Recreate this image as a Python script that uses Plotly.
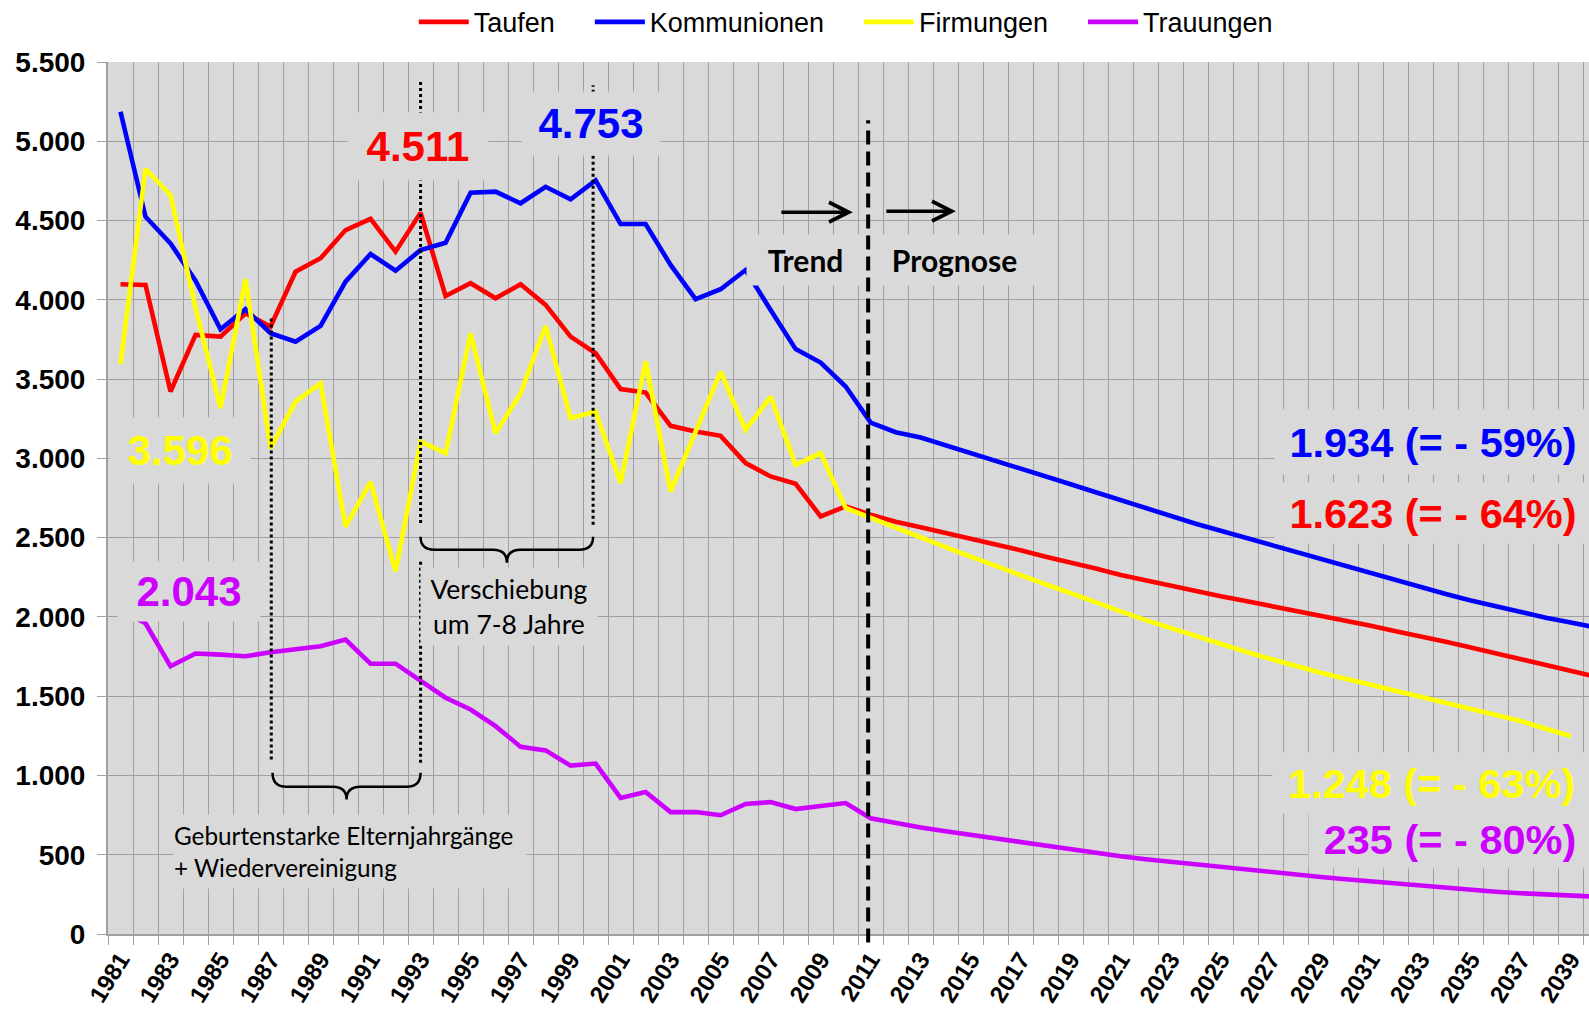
import plotly.graph_objects as go

# ---------------- data ----------------
years = list(range(1981, 2041))

taufen = [4098, 4094, 3422, 3779, 3768, 3915, 3831, 4177, 4262, 4440,
          4511, 4304, 4549, 4024, 4105, 4010, 4098, 3968, 3768, 3663,
          3437, 3415, 3205, 3169, 3142, 2970, 2886, 2840, 2634, 2697,
          2645, 2600, 2565, 2530, 2495, 2455, 2420, 2380, 2345, 2305,
          2265, 2230, 2200, 2165, 2130, 2100, 2070, 2040, 2005, 1975,
          1945, 1910, 1880, 1843, 1807, 1770, 1733, 1696, 1660, 1623]

kommunionen = [5186, 4524, 4356, 4120, 3814, 3941, 3789, 3736, 3836, 4115,
               4289, 4184, 4314, 4360, 4675, 4682, 4609, 4713, 4634, 4753,
               4478, 4478, 4220, 4004, 4067, 4188, 3936, 3689, 3604, 3453,
               3226, 3165, 3131, 3083, 3035, 2987, 2939, 2888, 2837, 2786,
               2735, 2684, 2633, 2588, 2543, 2498, 2454, 2410, 2365, 2320,
               2275, 2230, 2186, 2145, 2103, 2065, 2026, 1995, 1965, 1934]

firmungen = [3596, 4825, 4661, 3950, 3317, 4130, 3065, 3358, 3474, 2569,
             2852, 2287, 3106, 3033, 3789, 3159, 3411, 3835, 3254, 3296,
             2844, 3611, 2791, 3169, 3547, 3180, 3390, 2959, 3033, 2687,
             2624, 2560, 2500, 2440, 2380, 2320, 2262, 2205, 2150, 2090,
             2035, 1980, 1930, 1875, 1825, 1780, 1735, 1690, 1648, 1610,
             1572, 1537, 1500, 1460, 1420, 1382, 1343, 1295, 1248, None]

trauungen = [2043, 1960, 1689, 1769, 1762, 1752, 1777, 1798, 1815, 1857,
             1705, 1705, 1594, 1490, 1416, 1311, 1181, 1158, 1062, 1075,
             858, 896, 769, 769, 749, 820, 832, 788, 807, 826,
             730, 700, 672, 648, 625, 600, 575, 555, 532, 510,
             490, 472, 455, 438, 422, 406, 390, 375, 360, 345,
             331, 316, 302, 290, 278, 267, 257, 248, 241, 235]

series_names = ["Taufen", "Kommunionen", "Firmungen", "Trauungen"]
series_colors = ["#ff0000", "#0000ff", "#ffff00", "#cc00ff"]
series_values = [taufen, kommunionen, firmungen, trauungen]

y_ticks = list(range(0, 5501, 500))
x_label_years = [y for y in years if y % 2 == 1 and y <= 2039]

# ---------------- geometry helpers (layout only) ----------------
W, H = 1589, 1015
L_PX, TOP_PX, BOT_PX = 108.3, 61.7, 934.5
CAT = 25.0
X_MIN = 1980.5
X_MAX = X_MIN + (W - L_PX) / CAT
Y_MAX = 5500


def xd(px):
    return X_MIN + (px - L_PX) / CAT


def yd(py):
    return (BOT_PX - py) / (BOT_PX - TOP_PX) * Y_MAX


def yp(py):
    return (BOT_PX - py) / (BOT_PX - TOP_PX)


def xp(px):
    return (px - L_PX) / (W - L_PX)


GRID = "#a0a0a0"
BG = "#d9d9d9"
ARIAL = "Liberation Sans, Arial, sans-serif"
CAL = "Lato, Carlito, Calibri, sans-serif"
PAD = "\u00a0" * 4

fig = go.Figure()
for i, (name, col, vals) in enumerate(zip(series_names, series_colors,
                                          series_values)):
    label = name + (PAD if i < len(series_names) - 1 else "")
    fig.add_trace(go.Scatter(x=years, y=vals, name=label, mode="lines",
                             line=dict(color=col, width=4.6),
                             connectgaps=False))

shapes = []
dot = dict(color="black", width=3, dash="3px,3px")
# dotted markers
for x, y0, y1 in [(1987.03, 1101, 3894), (1993.0, 2592, 5375),
                  (1999.9, 2581, 5354), (1993.0, 1080, 2361)]:
    shapes.append(dict(type="line", xref="x", yref="y", x0=x, x1=x,
                       y0=y0, y1=y1, line=dot, layer="above"))
# dashed separation line (Trend / Prognose)
shapes.append(dict(type="line", xref="x", yref="paper", x0=2010.9, x1=2010.9,
                   y0=yp(943), y1=yp(120), layer="above",
                   line=dict(color="black", width=4, dash="14px,7px")))


def brace(x0, x1, ytop, ymid, ytip, dx=0.55):
    xm = (x0 + x1) / 2
    return (f"M{x0},{ytop} Q{x0},{ymid} {x0 + dx},{ymid} "
            f"L{xm - dx},{ymid} Q{xm},{ymid} {xm},{ytip} "
            f"Q{xm},{ymid} {xm + dx},{ymid} "
            f"L{x1 - dx},{ymid} Q{x1},{ymid} {x1},{ytop}")


for args in [(1993.0, 1999.9, yd(537), yd(550), yd(563)),
             (1987.08, 1993.0, yd(773), yd(787), yd(800))]:
    shapes.append(dict(type="path", xref="x", yref="y", path=brace(*args),
                       line=dict(color="black", width=2.5), layer="above"))

annotations = []


def box(text, cx, cy, w, h, color, size, family=ARIAL, bold=True,
        align="center"):
    annotations.append(dict(
        text=text, x=xd(cx), y=yd(cy), xref="x", yref="y",
        showarrow=False, width=w, height=h, bgcolor=BG, borderpad=0,
        align=align, valign="middle", xanchor="center", yanchor="middle",
        font=dict(family=family, size=size, color=color,
                  weight="bold" if bold else "normal")))


box("4.511", 418, 146.5, 140, 67, "#ff0000", 42)
box("4.753", 591, 123.5, 138, 63, "#0000ff", 42)
box("3.596", 180, 450.5, 140, 65, "#ffff00", 42)
box("2.043", 189, 592, 142, 59, "#cc00ff", 42)
box("1.934 (= - 59%)", 1433, 442, 316, 64, "#0000ff", 41.5)
box("1.623 (= - 64%)", 1433, 513, 316, 60, "#ff0000", 41.5)
box("1.248 (= - 63%)", 1432, 783, 317, 60, "#ffff00", 41.5)
box("235 (= - 80%)", 1450, 840, 282, 57, "#cc00ff", 41.5)
box("Trend", 806, 260, 117, 50, "black", 30, family=CAL)
box("Prognose", 955, 260, 165, 50, "black", 30, family=CAL)
box("Verschiebung<br>um 7-8 Jahre", 509, 607, 176, 77, "black", 26.5,
    family=CAL, bold=False)
box("Geburtenstarke Elternjahrgänge<br>+ Wiedervereinigung", 350, 852, 352,
    73, "black", 24.3, family=CAL, bold=False, align="left")

# arrows
for tail, head, py in [(780, 853, 212), (885, 956, 211)]:
    annotations.append(dict(
        x=xd(head), y=yd(py), xref="x", yref="y", ax=tail - head, ay=0,
        axref="pixel", ayref="pixel", text="", showarrow=True,
        arrowhead=5, arrowsize=1.1, arrowwidth=3.5, arrowcolor="black"))

fig.update_layout(
    width=W, height=H,
    margin=dict(l=L_PX, r=0, t=TOP_PX, b=H - BOT_PX, autoexpand=False),
    paper_bgcolor="white", plot_bgcolor=BG,
    separators=",.",
    showlegend=True,
    legend=dict(orientation="h", x=xp(414), xanchor="left",
                y=1 + (TOP_PX - 22) / (BOT_PX - TOP_PX), yanchor="middle",
                font=dict(family=ARIAL, size=27, color="black"),
                bgcolor="rgba(0,0,0,0)", itemwidth=50, tracegroupgap=0),
    shapes=shapes, annotations=annotations,
    xaxis=dict(range=[X_MIN, X_MAX], tickmode="array",
               tickvals=x_label_years, ticktext=[str(y) for y in x_label_years],
               showgrid=False, ticks="", tickangle=-58,
               tickfont=dict(family=ARIAL, size=24, color="black",
                             weight="bold"),
               showline=True, linecolor=GRID, linewidth=2,
               zeroline=False, automargin=False,
               minor=dict(tickvals=[y - 0.5 for y in years] + [2040.5],
                          showgrid=True, gridcolor=GRID, gridwidth=1.3,
                          ticks="outside", ticklen=9, tickcolor=GRID,
                          tickwidth=1.3)),
    yaxis=dict(range=[0, Y_MAX], tickmode="array", tickvals=y_ticks,
               tickformat=",d", showgrid=True, gridcolor=GRID, gridwidth=1.3,
               ticks="outside", ticklen=9, tickcolor=GRID, tickwidth=1.3,
               ticklabelstandoff=6,
               tickfont=dict(family=ARIAL, size=28, color="black",
                             weight="bold"),
               showline=True, linecolor=GRID, linewidth=2,
               zeroline=False, automargin=False),
)

fig.write_html("out.html", config={"displayModeBar": False},
               post_script="document.body.style.margin='0px';")
